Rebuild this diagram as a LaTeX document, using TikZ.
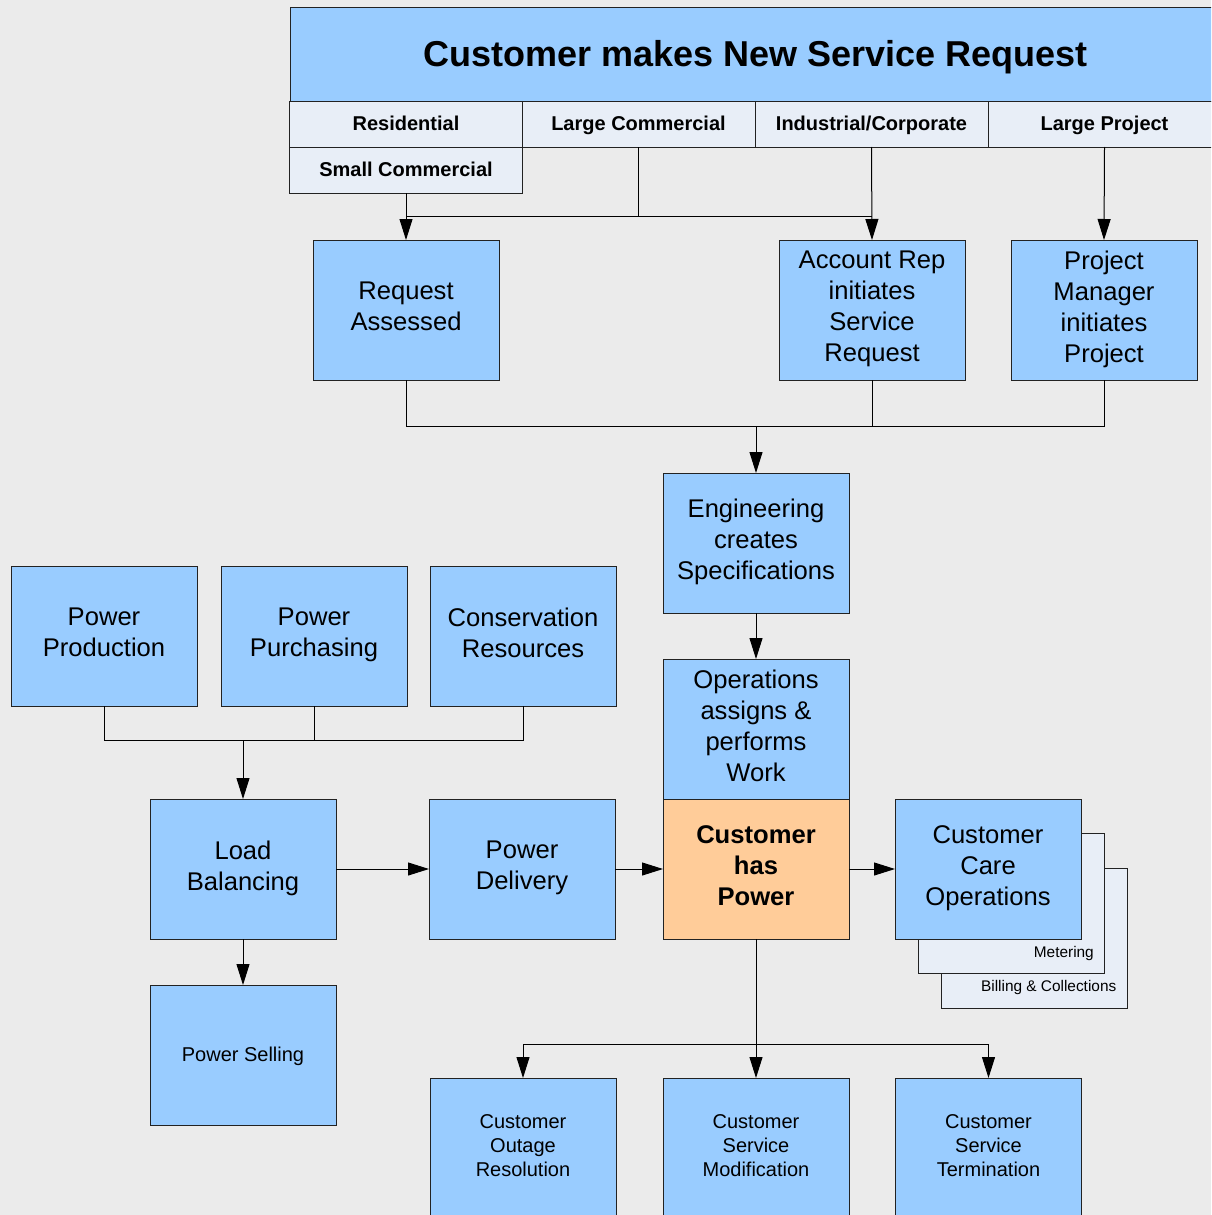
\documentclass[tikz,border=0pt]{standalone}
\usepackage{fontspec}
\setmainfont{Liberation Sans}
\usetikzlibrary{arrows.meta}
\definecolor{bg}{HTML}{EBEBEB}
\definecolor{boxblue}{HTML}{99CCFF}
\definecolor{boxorange}{HTML}{FFCC99}
\definecolor{hdr}{HTML}{E8EEF7}
\definecolor{edge}{HTML}{222222}
\newcommand\mystrut{\rule[-0.285em]{0pt}{1.21em}}
\tikzset{
 base/.style={draw=edge, line width=1pt, outer sep=0pt, inner sep=2pt, align=center,
   execute at begin node=\mystrut, execute at end node=\mystrut},
 bigbox/.style={base, fill=boxblue, minimum width=186pt, minimum height=140pt, font=\fontsize{25.6}{31}\selectfont},
 smallbox/.style={bigbox, font=\fontsize{20}{24}\selectfont},
 hdrcell/.style={base, fill=hdr, minimum width=233pt, minimum height=46pt, font=\fontsize{20}{24}\selectfont\bfseries},
 stackbox/.style={draw=edge, line width=1pt, outer sep=0pt, fill=hdr, minimum width=186pt, minimum height=140pt},
 stacktxt/.style={inner sep=0pt, font=\fontsize{15.4}{18}\selectfont, anchor=east},
 conn/.style={line width=1pt, draw=black},
 arr/.style={conn, -{Triangle[length=21pt,width=13pt]}},
}
\begin{document}
\begin{tikzpicture}[x=1pt,y=-1pt]
\path[use as bounding box] (0,0) rectangle (1211,1215);
\fill[bg] (0,0) rectangle (1211,1215);
\clip (0,0) rectangle (1211,1215);

% top
\node[base, fill=boxblue, minimum width=931pt, minimum height=93pt, font=\fontsize{36}{43}\selectfont\bfseries] (title) at (755.5,54.5) {Customer makes New Service Request};
\node[hdrcell] (resid) at (406,124) {Residential};
\node[hdrcell] (largecom) at (638.5,124) {Large Commercial};
\node[hdrcell] (indus) at (871.5,124) {Industrial/Corporate};
\node[hdrcell] (largeproj) at (1104.5,124) {Large Project};
\node[hdrcell] (smallcom) at (406,170) {Small Commercial};

\node[bigbox] (reqass) at (406,310) {Request\\Assessed};
\node[bigbox] (acctrep) at (872,310) {Account Rep\\initiates\\Service\\Request};
\node[bigbox] (projmgr) at (1104,310) {Project\\Manager\\initiates\\Project};

\node[bigbox] (eng) at (756,543) {Engineering\\creates\\Specifications};
\node[bigbox] (ops) at (756,729) {Operations\\assigns \&\\performs\\Work};
\node[bigbox, fill=boxorange, font=\fontsize{25.6}{31}\selectfont\bfseries] (power) at (756,869) {Customer\\has\\Power};

\node[bigbox] (pprod) at (104,636) {Power\\Production};
\node[bigbox] (ppurch) at (314,636) {Power\\Purchasing};
\node[bigbox] (cons) at (523,636) {Conservation\\Resources};

\node[bigbox] (load) at (243,869) {Load\\Balancing};
\node[bigbox] (deliv) at (522,869) {Power\\Delivery};
\node[smallbox] (sell) at (243,1055) {Power Selling};

\node[stackbox] (bill) at (1034.5,938) {};
\node[stacktxt] (billtxt) at ([xshift=-11pt,yshift=20pt]bill.south east) {Billing \& Collections};
\node[stackbox] (meter) at (1011,903) {};
\node[stacktxt] (metertxt) at ([xshift=-10pt,yshift=19pt]meter.south east) {Metering};
\node[bigbox] (care) at (988,869) {Customer\\Care\\Operations};

\node[smallbox] (outage) at (523,1148) {Customer\\Outage\\Resolution};
\node[smallbox] (modif) at (756,1148) {Customer\\Service\\Modification};
\node[smallbox] (term) at (988.5,1148) {Customer\\Service\\Termination};

% connectors top
\coordinate (hA) at (406,216);
\draw[arr] (smallcom.south) -- (reqass.north);
\draw[conn] (reqass.north |- hA) -- (acctrep.north |- hA);
\draw[conn] (largecom.south) -- (largecom.south |- hA);
\draw[arr] (indus.south) -- (acctrep.north);
\draw[arr] (largeproj.south) -- (projmgr.north);

\coordinate (m1) at (406,426);
\draw[conn] (reqass.south) -- (reqass.south |- m1) -- (projmgr.south |- m1) -- (projmgr.south);
\draw[conn] (acctrep.south) -- (acctrep.south |- m1);
\draw[arr] (eng.north |- m1) -- (eng.north);
\draw[arr] (eng.south) -- (ops.north);

\coordinate (p1) at (0,740);
\draw[conn] (pprod.south) -- (pprod.south |- p1) -- (cons.south |- p1) -- (cons.south);
\draw[conn] (ppurch.south) -- (ppurch.south |- p1);
\draw[arr] (load.north |- p1) -- (load.north);

\draw[arr] (load.east) -- (deliv.west);
\draw[arr] (deliv.east) -- (power.west);
\draw[arr] (power.east) -- (care.west);
\draw[arr] (load.south) -- (sell.north);

\coordinate (b1) at (0,1044);
\draw[arr] (power.south) -- (modif.north);
\draw[conn] (outage.north |- b1) -- (term.north |- b1);
\draw[arr] (outage.north |- b1) -- (outage.north);
\draw[arr] (term.north |- b1) -- (term.north);
\end{tikzpicture}
\end{document}
